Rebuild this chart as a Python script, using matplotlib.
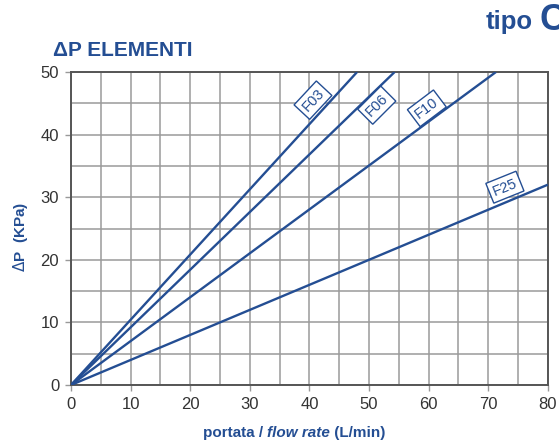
import matplotlib.pyplot as plt
import numpy as np

plt.rcParams['font.family'] = ['Liberation Sans', 'DejaVu Sans']

# flow rate (L/min) and pressure drop (KPa) end points for each element
elements = ['F03', 'F06', 'F10', 'F25']
flow_start = [0, 0, 0, 0]
dp_start = [0, 0, 0, 0]
flow_end = [48.0, 54.3, 71.3, 80.0]
dp_end = [50, 50, 50, 32]

# label positions along each line (data units) and angles
label_x = [40.6, 51.3, 59.7, 72.8]
label_y = [45.5, 44.7, 44.2, 31.6]
label_rot = [47, 45, 37, 22]

blue = '#244e93'
text_gray = '#333333'

fig = plt.figure(figsize=(5.59, 4.48), dpi=100)
ax = fig.add_axes([0.127, 0.1406, 0.853, 0.6987])

for i, name in enumerate(elements):
    ax.plot([flow_start[i], flow_end[i]], [dp_start[i], dp_end[i]],
            color=blue, lw=1.7, solid_capstyle='butt', zorder=3)
    ax.text(label_x[i], label_y[i], name, rotation=label_rot[i],
            ha='center', va='center', fontsize=10.5, color=blue, zorder=4,
            rotation_mode='anchor',
            bbox=dict(boxstyle='square,pad=0.25', fc='white', ec=blue, lw=1.0))

ax.set_xlim(0, 80)
ax.set_ylim(0, 50)
ax.set_xticks(np.arange(0, 81, 10))
ax.set_yticks(np.arange(0, 51, 10))
ax.set_xticks(np.arange(0, 81, 5), minor=True)
ax.set_yticks(np.arange(0, 51, 5), minor=True)
ax.grid(which='both', color='#9a9a9a', lw=1.1, zorder=0)
ax.tick_params(which='major', length=4.5, width=1, color='#999999',
               labelsize=12, labelcolor=text_gray, pad=4)
ax.tick_params(which='minor', length=0)
for s in ax.spines.values():
    s.set_color('#555555')
    s.set_linewidth(1.4)
ax.set_axisbelow(True)

ax.set_ylabel(r'$\Delta$P  (KPa)', color=blue, fontsize=11,
              fontweight='bold')
ax.yaxis.set_label_coords(-0.085, 0.473)

# x axis title in three pieces (bold / bold italic / bold)
t1 = fig.text(0.363, 0.025, 'portata / ', color=blue, fontsize=11,
              fontweight='bold', ha='left', va='baseline')
t2 = fig.text(0, 0, 'flow rate', color=blue, fontsize=11,
              fontweight='bold', style='italic', ha='left', va='baseline')
t3 = fig.text(0, 0, ' (L/min)', color=blue, fontsize=11,
              fontweight='bold', ha='left', va='baseline')
fig.canvas.draw()
r = fig.canvas.get_renderer()
bb1 = t1.get_window_extent(r)
t2.set_position((bb1.x1 / fig.bbox.width, 0.025))
bb2 = t2.get_window_extent(r)
t3.set_position((bb2.x1 / fig.bbox.width, 0.025))

fig.text(0.095, 0.875, 'ΔP ELEMENTI', color=blue, fontsize=15,
         fontweight='bold', ha='left', va='baseline')
fig.text(0.868, 0.935, 'tipo', color=blue, fontsize=18.5,
         fontweight='bold', ha='left', va='baseline')
fig.text(0.966, 0.933, 'C', color=blue, fontsize=26,
         fontweight='bold', ha='left', va='baseline')

plt.savefig('out.png', dpi=100)
